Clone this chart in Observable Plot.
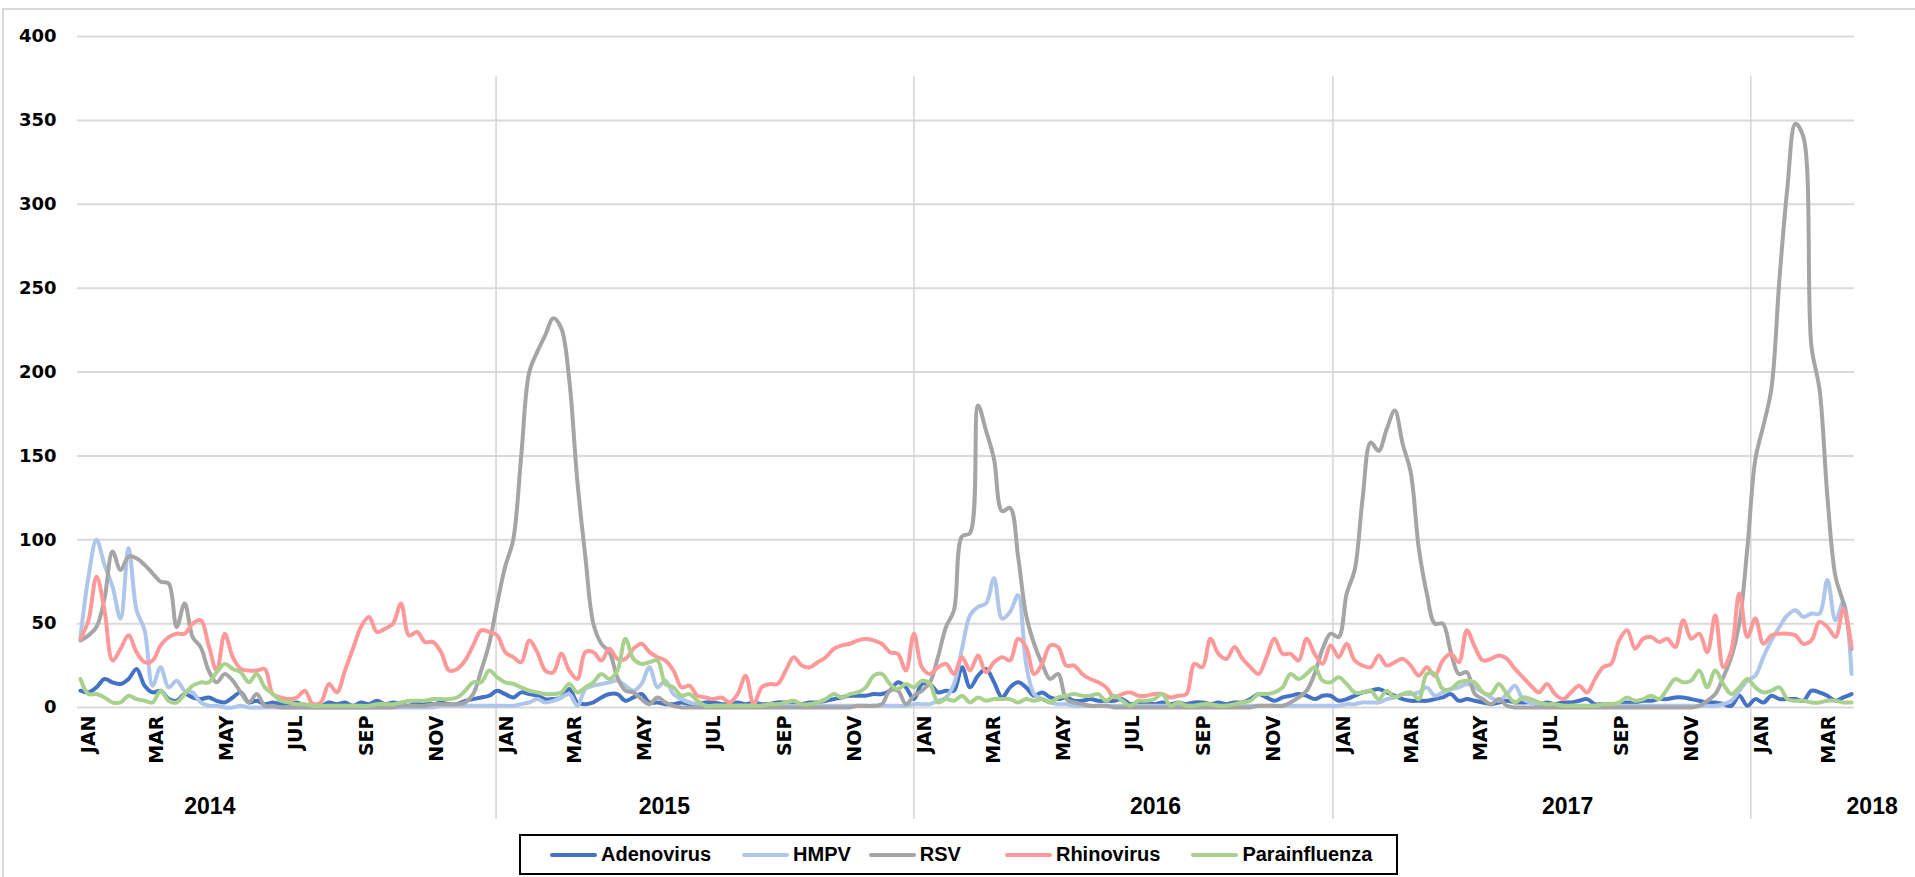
<!DOCTYPE html>
<html><head><meta charset="utf-8">
<script src="https://cdn.jsdelivr.net/npm/d3@7"></script>
<script src="https://cdn.jsdelivr.net/npm/@observablehq/plot@0.6"></script>
<style>
html,body{margin:0;padding:0;background:#fff;}
body{width:1915px;height:877px;overflow:hidden;position:relative;font-family:"Liberation Sans",Arial,sans-serif;}
#frame{position:absolute;left:2px;top:8px;width:1960px;height:920px;border:2px solid #d9d9d9;box-sizing:border-box;}
#chart{position:absolute;left:0;top:0;}
#legend{position:absolute;left:519px;top:834px;width:879px;height:41px;border:2px solid #000;box-sizing:border-box;display:flex;align-items:center;padding-left:29px;font-weight:bold;font-size:20px;color:#000;background:#fff;}
.item{display:flex;align-items:center;}
.item:nth-child(2){margin-left:31px;}
.item:nth-child(3){margin-left:18px;}
.item:nth-child(4){margin-left:44px;}
.item:nth-child(5){margin-left:31px;}
.sw{width:47px;height:4px;margin-right:4px;border-radius:2px;}
</style></head>
<body>
<div id="frame"></div>
<div id="chart"></div>
<div id="legend"></div>
<script>
const series = ["Adenovirus", "HMPV", "RSV", "Rhinovirus", "Parainfluenza"];
const colors = ["#4472C4", "#AEC6EA", "#A5A5A5", "#FF9999", "#A9D18E"];
const monthLabels = ["JAN","FEB","MAR","APR","MAY","JUN","JUL","AUG","SEP","OCT","NOV","DEC"];
const yearLabels = ["2014", "2015", "2016", "2017", "2018"];
const yearLabelDates = ["2014-04-26", "2015-05-28", "2016-07-30", "2017-07-25", "2018-04-17"];
const firstWeek = "2014-01-03";

const adenovirus = [
10, 9, 12, 17, 15, 14, 17, 23, 13, 9,
10, 5, 4, 8, 6, 5, 6, 4, 3, 6,
9, 3, 4, 2, 3, 2, 2, 3, 1, 2,
1, 3, 2, 3, 1, 3, 2, 4, 2, 3,
2, 1, 3, 3, 2, 3, 2, 2, 4, 5,
6, 7, 10, 8, 6, 9, 8, 7, 5, 5,
6, 11, 3, 2, 3, 6, 8, 8, 4, 6,
8, 3, 3, 2, 2, 3, 2, 2, 3, 3,
2, 2, 3, 2, 3, 2, 2, 3, 3, 3,
2, 3, 3, 4, 5, 6, 7, 7, 7, 8,
8, 10, 15, 12, 5, 14, 14, 9, 10, 10,
24, 12, 19, 23, 15, 6, 12, 15, 12, 7,
9, 6, 5, 6, 4, 4, 5, 4, 4, 4,
5, 2, 3, 3, 2, 3, 2, 3, 2, 3,
3, 2, 3, 2, 3, 3, 5, 8, 6, 4,
6, 7, 8, 7, 5, 7, 7, 4, 5, 7,
9, 10, 11, 9, 7, 5, 4, 4, 4, 5,
6, 8, 4, 5, 4, 3, 2, 3, 4, 3,
3, 3, 2, 3, 2, 3, 3, 4, 5, 2,
2, 2, 2, 3, 3, 4, 4, 5, 5, 6,
6, 5, 4, 3, 3, 2, 1, 7, 1, 5,
3, 7, 5, 5, 5, 4, 10, 9, 7, 4,
6, 8];

const hmpv = [
42, 78, 100, 85, 72, 53, 95, 58, 46, 13,
24, 12, 16, 10, 9, 3, 1, 1, 0, 0,
1, 0, 0, 0, 0, 0, 0, 0, 0, 0,
0, 0, 0, 0, 0, 0, 0, 0, 0, 0,
0, 0, 0, 0, 0, 1, 1, 1, 1, 1,
1, 1, 1, 1, 1, 2, 3, 5, 3, 4,
6, 8, 1, 11, 13, 14, 15, 16, 13, 10,
14, 24, 12, 16, 8, 5, 3, 2, 1, 1,
1, 1, 1, 1, 1, 1, 1, 1, 1, 1,
1, 1, 1, 1, 1, 1, 1, 1, 1, 1,
1, 1, 1, 1, 2, 2, 2, 4, 6, 14,
35, 55, 60, 62, 77, 53, 57, 67, 26, 8,
5, 3, 2, 2, 1, 1, 1, 1, 1, 1,
1, 1, 1, 1, 1, 1, 1, 1, 1, 1,
1, 1, 1, 1, 1, 1, 1, 1, 1, 1,
1, 1, 1, 1, 1, 1, 1, 1, 2, 2,
3, 3, 3, 5, 6, 8, 8, 9, 12, 7,
9, 11, 12, 14, 12, 9, 6, 4, 8, 13,
5, 3, 2, 1, 1, 1, 1, 1, 1, 1,
1, 1, 1, 1, 1, 1, 1, 1, 1, 1,
1, 1, 1, 1, 1, 2, 4, 10, 16, 19,
30, 40, 48, 55, 58, 54, 56, 56, 76, 52,
63, 20];

const rsv = [
40, 43, 48, 65, 93, 82, 90, 89, 85, 80,
75, 74, 48, 62, 42, 36, 22, 15, 20, 16,
9, 3, 8, 1, 1, 0, 0, 0, 0, 0,
0, 0, 0, 0, 0, 0, 0, 0, 0, 0,
1, 1, 1, 1, 2, 2, 2, 2, 3, 8,
22, 38, 62, 84, 100, 150, 200, 212, 222, 232,
226, 195, 135, 90, 50, 38, 33, 18, 10, 9,
5, 2, 6, 3, 1, 0, 0, 0, 0, 0,
0, 0, 0, 0, 0, 0, 0, 0, 0, 0,
0, 0, 0, 0, 0, 0, 0, 1, 1, 1,
2, 10, 10, 2, 7, 10, 15, 30, 48, 58,
102, 104, 180, 165, 148, 117, 119, 90, 55, 38,
26, 17, 20, 5, 3, 2, 1, 1, 1, 0,
0, 0, 0, 0, 0, 0, 0, 0, 0, 0,
0, 0, 0, 0, 0, 0, 0, 1, 1, 1,
1, 3, 6, 10, 20, 35, 44, 42, 68, 82,
125, 158, 153, 166, 177, 157, 140, 95, 68, 50,
50, 33, 20, 21, 8, 5, 2, 5, 1, 0,
0, 0, 0, 0, 0, 0, 0, 0, 0, 0,
0, 0, 0, 0, 0, 0, 0, 0, 0, 0,
0, 0, 1, 4, 8, 18, 30, 50, 95, 148,
168, 190, 255, 310, 348, 340, 215, 190, 125, 78,
62, 35];

const rhinovirus = [
41, 52, 78, 58, 28, 35, 43, 33, 27, 28,
37, 42, 44, 44, 50, 52, 37, 22, 44, 30,
23, 22, 22, 23, 8, 6, 5, 6, 10, 2,
3, 14, 9, 22, 35, 48, 54, 45, 47, 50,
62, 43, 45, 39, 39, 33, 22, 23, 28, 37,
46, 45, 43, 33, 30, 27, 40, 33, 22, 21,
32, 22, 17, 33, 33, 28, 35, 29, 29, 35,
38, 33, 30, 28, 22, 12, 13, 7, 6, 5,
6, 3, 8, 19, 2, 12, 14, 14, 22, 30,
25, 24, 27, 30, 35, 37, 38, 40, 41, 40,
38, 33, 32, 22, 44, 24, 20, 24, 26, 20,
30, 22, 31, 21, 27, 30, 28, 41, 36, 20,
26, 37, 36, 25, 25, 20, 17, 15, 12, 6,
8, 9, 7, 7, 8, 8, 6, 7, 8, 26,
24, 41, 32, 29, 36, 29, 24, 20, 30, 41,
32, 32, 28, 41, 32, 26, 37, 30, 38, 28,
25, 24, 31, 25, 27, 29, 25, 19, 24, 19,
28, 32, 27, 46, 36, 28, 29, 31, 29, 23,
18, 13, 9, 14, 8, 5, 9, 13, 9, 17,
24, 26, 40, 46, 35, 41, 42, 39, 41, 36,
52, 41, 44, 33, 55, 24, 34, 68, 42, 53,
38, 43, 44, 44, 43, 38, 40, 51, 48, 42,
59, 36];

const parainfluenza = [
17, 8, 8, 6, 3, 3, 7, 5, 4, 3,
10, 4, 3, 8, 13, 15, 15, 21, 26, 23,
21, 15, 20, 12, 8, 4, 3, 2, 2, 1,
1, 1, 1, 1, 1, 1, 1, 2, 2, 2,
3, 4, 4, 4, 5, 5, 5, 6, 10, 15,
15, 22, 18, 15, 14, 12, 10, 9, 8, 8,
9, 14, 9, 12, 15, 20, 17, 22, 41, 29,
26, 27, 28, 14, 12, 7, 8, 4, 1, 1,
1, 1, 1, 1, 1, 1, 2, 2, 3, 4,
2, 2, 3, 5, 8, 6, 8, 9, 12, 19,
20, 14, 11, 14, 12, 16, 14, 3, 5, 4,
7, 3, 6, 4, 5, 5, 5, 3, 5, 4,
5, 3, 6, 7, 8, 7, 7, 8, 4, 7,
4, 1, 4, 4, 5, 8, 1, 3, 1, 1,
2, 2, 1, 1, 2, 3, 4, 8, 8, 9,
12, 20, 17, 20, 24, 16, 15, 18, 14, 9,
9, 10, 5, 10, 6, 8, 9, 5, 20, 20,
11, 11, 15, 16, 15, 9, 8, 14, 8, 3,
6, 5, 3, 2, 2, 1, 1, 1, 1, 1,
2, 2, 3, 6, 4, 5, 7, 5, 11, 17,
15, 16, 22, 12, 22, 14, 8, 12, 17, 12,
9, 10, 12, 5, 4, 4, 3, 3, 4, 4,
3, 3];

const values = [adenovirus, hmpv, rsv, rhinovirus, parainfluenza];
const DAY = 864e5;
const t0 = Date.parse(firstWeek);
const n = adenovirus.length;
const tables = series.map((s, k) => values[k].map((v, i) => ({date: new Date(t0 + 7 * i * DAY), value: v, series: s})));
const pad = 2.6 * DAY;
const xDomain = [new Date(t0 - pad), new Date(t0 + 7 * (n - 1) * DAY + pad)];
const monthTicks = d3.utcMonth.every(2).range(new Date("2014-01-01"), xDomain[1]);
const yearStarts = d3.utcYear.range(new Date("2015-01-01"), xDomain[1]);
const yTicks = d3.range(0, 401, 50);
const tickFont = '"DejaVu Sans", Verdana, sans-serif';

const chart = Plot.plot({
  width: 1915,
  height: 830,
  marginTop: 36,
  marginRight: 61,
  marginBottom: 123,
  marginLeft: 77,
  style: {fontFamily: '"Liberation Sans", Arial, sans-serif', background: "transparent", overflow: "visible", color: "#000"},
  x: {type: "utc", domain: xDomain, axis: null},
  y: {domain: [0, 400], axis: null},
  marks: [
    Plot.gridY(yTicks, {stroke: "#d9d9d9", strokeWidth: 2, strokeOpacity: 1}),
    Plot.axisY(yTicks, {label: null, tickSize: 0, tickPadding: 21, fontSize: 18, fontWeight: "bold", fontFamily: tickFont, fill: "#000"}),
    Plot.ruleX(yearStarts, {x: d => d, y1: 376, y2: 0, insetBottom: -112, stroke: "#d4d4d4", strokeWidth: 1.5}),
    ...tables.map((t, k) => Plot.line(t, {x: "date", y: "value", stroke: colors[k], strokeWidth: 4, curve: "catmull-rom", strokeLinejoin: "round", strokeLinecap: "round"})),
    Plot.text(monthTicks, {x: d => d, y: 0, text: d => monthLabels[d.getUTCMonth()], rotate: -90, textAnchor: "end", lineAnchor: "middle", dy: 8, dx: 11, fontSize: 19, fontWeight: "bold", fontFamily: tickFont, fill: "#000"}),
    Plot.text(yearLabels, {x: (d, i) => new Date(yearLabelDates[i]), y: 0, text: d => d, dy: 99, fontSize: 23, fontWeight: "bold", fill: "#000"})
  ]
});
document.getElementById("chart").appendChild(chart);

const legend = document.getElementById("legend");
series.forEach((s, k) => {
  const item = document.createElement("div");
  item.className = "item";
  const sw = document.createElement("span");
  sw.className = "sw";
  sw.style.background = colors[k];
  const label = document.createElement("span");
  label.textContent = s;
  item.appendChild(sw);
  item.appendChild(label);
  legend.appendChild(item);
});
</script>
</body></html>
